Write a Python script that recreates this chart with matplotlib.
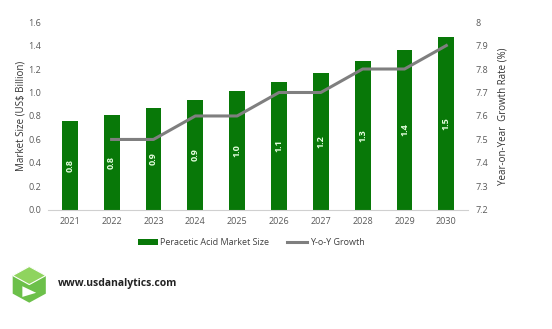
import matplotlib.pyplot as plt
from matplotlib.patches import Polygon
import numpy as np

plt.rcParams['font.family'] = ['Open Sans', 'DejaVu Sans']

years = ['2021', '2022', '2023', '2024', '2025', '2026', '2027', '2028', '2029', '2030']
market_size = [0.76, 0.81, 0.87, 0.94, 1.01, 1.09, 1.17, 1.27, 1.36, 1.47]
bar_labels = ['0.8', '0.8', '0.9', '0.9', '1.0', '1.1', '1.2', '1.3', '1.4', '1.5']
yoy_growth = [np.nan, 7.5, 7.5, 7.6, 7.6, 7.7, 7.7, 7.8, 7.8, 7.9]

fig = plt.figure(figsize=(5.52, 3.29), dpi=100)
ax = fig.add_axes([0.087, 0.362, 0.761, 0.571])
x = np.arange(len(years))

bars = ax.bar(x, market_size, width=0.38, color='#087808', label='Peracetic Acid Market Size', zorder=2)
for b, lab in zip(bars, bar_labels):
    ax.text(b.get_x() + b.get_width()/2, b.get_height()/2, lab, rotation=90,
            ha='center', va='center', color='#e6ffe0', fontsize=6.5, fontweight='bold', zorder=3)

ax.set_ylim(0, 1.6)
ax.set_yticks(np.arange(0, 1.61, 0.2))
ax.set_yticklabels(['%.1f' % v for v in np.arange(0, 1.61, 0.2)])
ax.set_xlim(-0.52, 9.52)
ax.set_xticks(x)
ax.set_xticklabels(years)
ax.set_ylabel('Market Size (US$ Billion)', fontsize=7, color='#333333', labelpad=1)
for s in ['top', 'right', 'left']:
    ax.spines[s].set_visible(False)
ax.spines['bottom'].set_color('#d0d0d0')
ax.tick_params(length=0, labelsize=6.5, colors='#595959', pad=5)

ax2 = ax.twinx()
line, = ax2.plot(x, yoy_growth, color='#7f7f7f', lw=2.2, label='Y-o-Y Growth', zorder=4)
ax2.set_ylim(7.2, 8.0)
ax2.set_yticks([7.2, 7.3, 7.4, 7.5, 7.6, 7.7, 7.8, 7.9, 8.0])
ax2.set_yticklabels(['7.2', '7.3', '7.4', '7.5', '7.6', '7.7', '7.8', '7.9', '8'])
ax2.set_ylabel('Year-on-Year  Growth Rate (%)', fontsize=7, color='#333333', labelpad=7)
for s in ['top', 'right', 'left', 'bottom']:
    ax2.spines[s].set_visible(False)
ax2.tick_params(length=0, labelsize=6.5, colors='#595959', pad=5)

fig.legend([bars, line], ['Peracetic Acid Market Size', 'Y-o-Y Growth'], loc='center',
           bbox_to_anchor=(0.455, 0.262), ncol=2, frameon=False, fontsize=6.5,
           handlelength=2.2, columnspacing=2.0, handletextpad=0.3,
           labelcolor='#404040')

# logo
cx, cy, r = 0.053, 0.135, 0.05
hexpts = [(cx, cy + r*1.1), (cx + r*0.6, cy + r*0.55), (cx + r*0.6, cy - r*0.55),
          (cx, cy - r*1.1), (cx - r*0.6, cy - r*0.55), (cx - r*0.6, cy + r*0.55)]
fig.patches.append(Polygon(hexpts, closed=True, transform=fig.transFigure,
                           facecolor='#6cc04a', edgecolor='none'))
fig.patches.append(Polygon([(cx - r*0.6, cy + r*0.55), (cx, cy + r*1.1), (cx + r*0.6, cy + r*0.55), (cx, cy)],
                           closed=True, transform=fig.transFigure, facecolor='#8fd45e', edgecolor='white', lw=0.8))
fig.patches.append(Polygon([(cx - r*0.25, cy - r*0.1), (cx - r*0.25, cy - r*0.75), (cx + r*0.25, cy - r*0.5)],
                           closed=True, transform=fig.transFigure, facecolor='white', edgecolor='none'))
fig.text(0.105, 0.138, 'www.usdanalytics.com', fontsize=7.5, fontweight='bold', color='#222222', va='center')

fig.savefig('out.png', dpi=100)
